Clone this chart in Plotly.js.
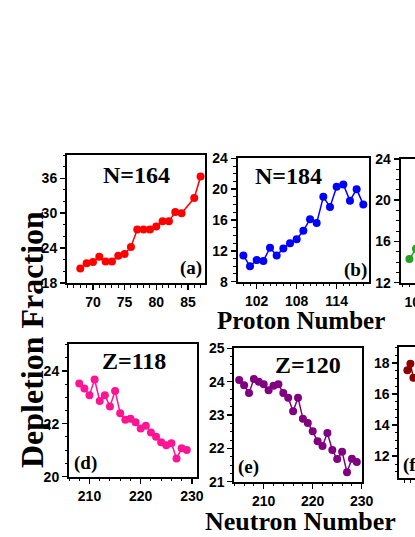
<!DOCTYPE html>
<html>
<head>
<meta charset="utf-8">
<script src="https://cdn.plot.ly/plotly-3.0.1.min.js"></script>
<style>
  html, body { margin: 0; padding: 0; overflow: hidden; background: #fff; }
  #plot { width: 560px; height: 537px; }
</style>
</head>
<body>
<div id="plot"></div>
<script>
// (a) N=164, depletion vs proton number (Z=85 missing)
let protonA = [68, 69, 70, 71, 72, 73, 74, 75, 76, 77, 78, 79, 80, 81, 82, 83, 84, 86, 87];
let fracA = [20.5, 21.4, 21.6, 22.5, 21.7, 21.7, 22.7, 23.0, 24.2, 27.2, 27.2, 27.2, 27.7, 28.6, 28.6, 30.2, 30.0, 32.6, 36.3];

// (b) N=184
let protonB = [100, 101, 102, 103, 104, 105, 106, 107, 108, 109, 110, 111, 112, 113, 114, 115, 116, 117, 118];
let fracB = [11.4, 10.0, 10.8, 10.7, 12.4, 11.4, 12.3, 13.0, 13.5, 14.6, 16.1, 15.6, 19.0, 17.7, 20.3, 20.6, 18.5, 20.0, 18.0];

// (c) only the first points are inside the picture
let protonC = [101, 102];
let fracC = [14.3, 15.3];

// (d) Z=118, depletion vs neutron number
let neutronD = [208, 209, 210, 211, 212, 213, 214, 215, 216, 217, 218, 219, 220, 221, 222, 223, 224, 225, 226, 227, 228, 229];
let fracD = [23.52, 23.33, 23.08, 23.67, 22.86, 23.08, 22.65, 23.24, 22.40, 22.15, 22.19, 22.06, 21.82, 21.92, 21.67, 21.51, 21.30, 21.19, 21.26, 20.69, 21.07, 21.01];

// (e) Z=120
let neutronE = [205, 206, 207, 208, 209, 210, 211, 212, 213, 214, 215, 216, 217, 218, 219, 220, 221, 222, 223, 224, 225, 226, 227, 228, 229];
let fracE = [24.05, 23.89, 23.66, 24.08, 24.0, 23.92, 23.74, 23.88, 23.92, 23.66, 23.52, 23.11, 23.52, 22.89, 22.76, 22.51, 22.21, 22.07, 22.46, 21.95, 21.68, 21.90, 21.28, 21.69, 21.59];

// (f) only the first points are inside the picture
let neutronF = [183, 184, 185];
let fracF = [17.52, 17.94, 17.04];

let colors = ["#ff0000", "#0000ff", "#22a022", "#ff1493", "#800080", "#8b0000"];

// page is wider than the window, the right column gets cut off like the reference
const W = 560, H = 537;
function dx(a, b) { return [a / W, b / W]; }
function dy(top, bottom) { return [1 - bottom / H, 1 - top / H]; }

function series(x, y, i) {
    return {
        x: x, y: y,
        xaxis: "x" + (i === 1 ? "" : i),
        yaxis: "y" + (i === 1 ? "" : i),
        type: "scatter",
        mode: "lines+markers",
        line: { color: colors[i - 1], width: 1.5 },
        marker: { color: colors[i - 1], size: 8 },
        cliponaxis: true,
        showlegend: false
    };
}

let tickFont = { family: "Liberation Sans", size: 14, color: "#000", weight: "bold" };

function axis(domain, range, dtick, minorDtick, anchor) {
    return {
        domain: domain, range: range, anchor: anchor,
        dtick: dtick, tick0: 0,
        showline: true, linecolor: "#000", linewidth: 2, mirror: true,
        ticks: "outside", ticklen: 5, tickwidth: 1.5, tickcolor: "#000",
        minor: { dtick: minorDtick, ticks: "outside", ticklen: 2.5, tickwidth: 1, tickcolor: "#000" },
        showgrid: false, zeroline: false,
        tickfont: tickFont
    };
}

let pdata = [
    series(protonA, fracA, 1),
    series(protonB, fracB, 2),
    series(protonC, fracC, 3),
    series(neutronD, fracD, 4),
    series(neutronE, fracE, 5),
    series(neutronF, fracF, 6)
];

let serif = { family: "Liberation Serif", color: "#000" };
function label(text, ref, x, y, size) {
    return {
        text: "<b>" + text + "</b>", showarrow: false,
        xref: "x" + ref + " domain", yref: "y" + ref + " domain",
        x: x, y: y, xanchor: "center", yanchor: "middle",
        font: Object.assign({ size: size }, serif)
    };
}
function pageText(text, x, y, size, angle) {
    return {
        text: "<b>" + text + "</b>", showarrow: false, textangle: angle,
        xref: "paper", yref: "paper", x: x / W, y: 1 - y / H,
        xanchor: "center", yanchor: "middle",
        font: Object.assign({ size: size }, serif)
    };
}

var layout = {
    width: W, height: H,
    margin: { l: 0, r: 0, t: 0, b: 0 },
    paper_bgcolor: "#fff", plot_bgcolor: "#fff",
    xaxis: axis(dx(67, 205), [65.9, 87.7], 5, 1, "y"),
    yaxis: axis(dy(155, 283), [18, 40], 6, 2, "x"),
    xaxis2: axis(dx(237.7, 369.3), [99.15, 118.9], 6, 1, "y2"),
    yaxis2: axis(dy(158.3, 281.7), [8, 24], 4, 1, "x2"),
    xaxis3: axis(dx(400.7, 532.3), [99.7, 119.4], 6, 1, "y3"),
    yaxis3: axis(dy(159, 282.7), [12, 24], 4, 1, "x3"),
    xaxis4: axis(dx(69, 197), [206, 231], 10, 2, "y4"),
    yaxis4: axis(dy(344.3, 476.7), [20, 25], 2, 0.5, "x4"),
    xaxis5: axis(dx(234.3, 361.7), [204, 230], 10, 2, "y5"),
    yaxis5: axis(dy(348.3, 481.7), [21, 25], 1, 0.25, "x5"),
    xaxis6: axis(dx(399.3, 526.7), [180.3, 222.8], 10, 2, "y6"),
    yaxis6: axis(dy(347.3, 478), [10.6, 19], 2, 0.5, "x6"),
    annotations: [
        label("N=164", "", 0.505, 0.844, 24),
        label("(a)", "", 0.9, 0.115, 19),
        label("N=184", "2", 0.385, 0.857, 24),
        label("(b)", "2", 0.895, 0.095, 19),
        label("Z=118", "4", 0.51, 0.876, 24),
        label("(d)", "4", 0.13, 0.1, 19),
        label("Z=120", "5", 0.58, 0.875, 24),
        label("(e)", "5", 0.115, 0.112, 19),
        label("(f)", "6", 0.1, 0.1, 19),
        pageText("Proton Number", 301, 320.7, 25, 0),
        pageText("Neutron Number", 300, 521, 26, 0),
        pageText("Depletion Fraction", 32, 340, 32, -90)
    ]
};

Plotly.newPlot("plot", pdata, layout, { displayModeBar: false, staticPlot: true });
</script>
</body>
</html>
